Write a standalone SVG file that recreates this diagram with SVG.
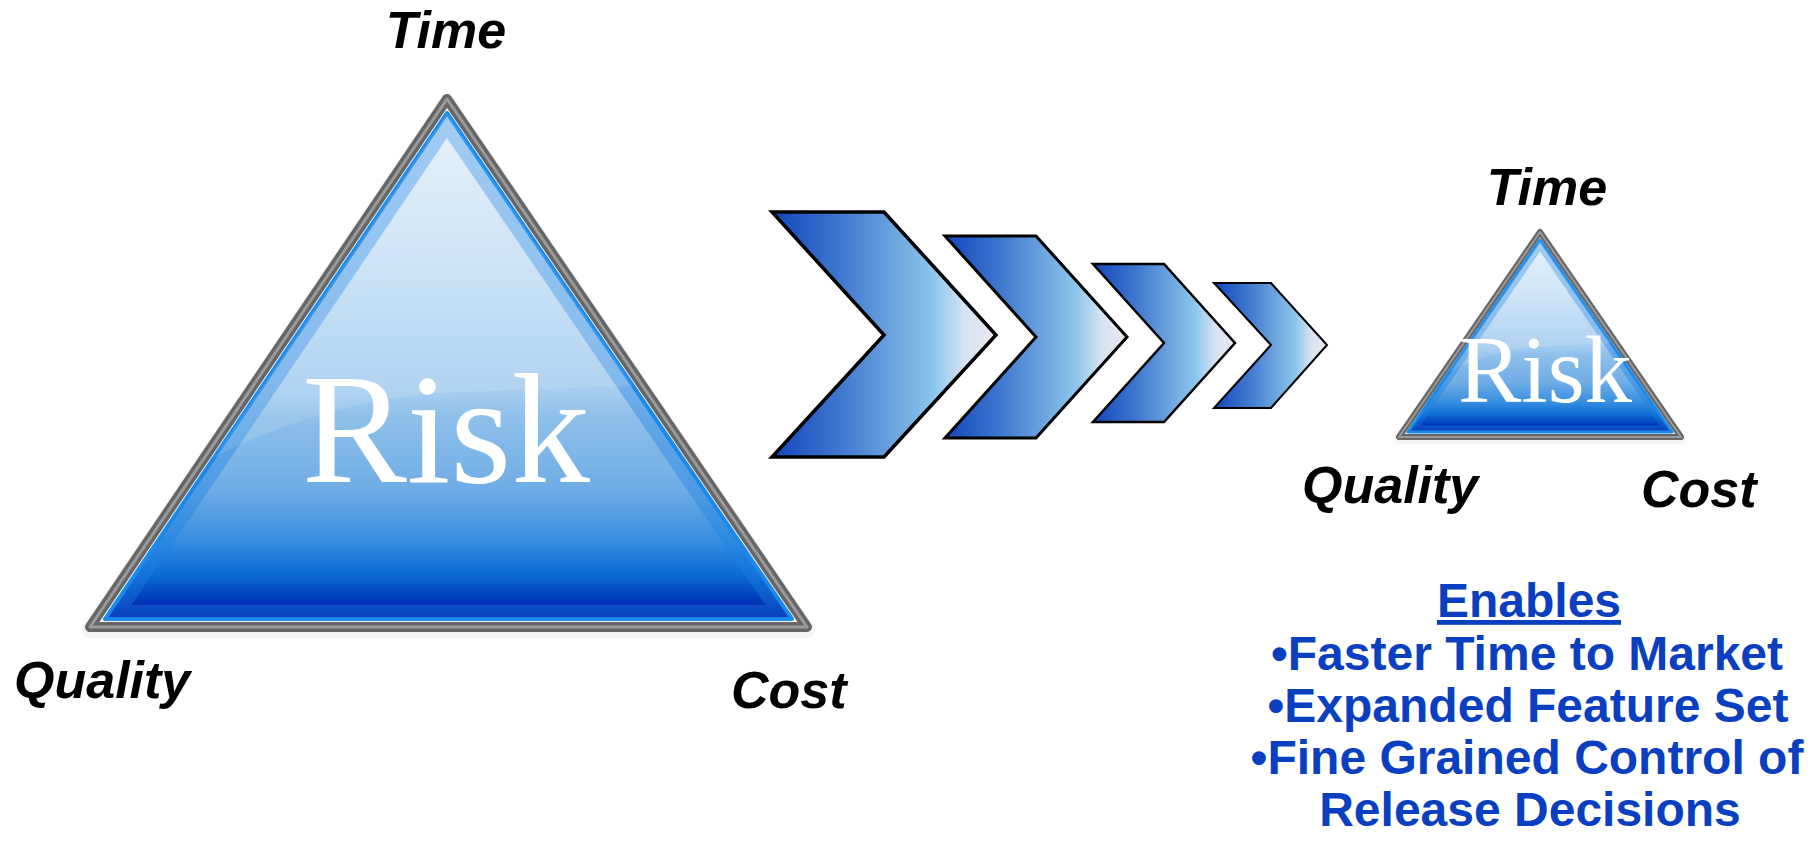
<svg xmlns="http://www.w3.org/2000/svg" width="1820" height="848" viewBox="0 0 1820 848">
<style>
.lbl{font-family:"Liberation Sans",Arial,sans-serif;font-weight:bold;font-style:italic;font-size:52px;fill:#000}
.risk{font-family:"Liberation Serif","Times New Roman",serif;fill:#fff}
.en{font-family:"Liberation Sans",Arial,sans-serif;font-weight:bold;font-size:48px;fill:#0a40c0;text-anchor:middle}
.chev{fill:url(#chevGrad);stroke:#000;stroke-linejoin:miter}
.rim{fill:none;stroke:#666;stroke-linejoin:round}
.rimHi{fill:none;stroke:#9a9a9a;stroke-linejoin:round}
.inner{fill:url(#triGrad);stroke:#1a8cec;stroke-linejoin:round}
</style>
<defs>
<linearGradient id="chevGrad" x1="0" y1="0" x2="1" y2="0">
<stop offset="0" stop-color="#1246bc"/>
<stop offset="0.3" stop-color="#3e77cf"/>
<stop offset="0.55" stop-color="#6ea5df"/>
<stop offset="0.72" stop-color="#8cc6ec"/>
<stop offset="0.86" stop-color="#d6e3f2"/>
<stop offset="1" stop-color="#ebe8f2"/>
</linearGradient>
<linearGradient id="triGrad" x1="0" y1="0" x2="0" y2="1">
<stop offset="0" stop-color="#e6f1fb"/>
<stop offset="0.3" stop-color="#c6e0f5"/>
<stop offset="0.55" stop-color="#a6cdf0"/>
<stop offset="0.6" stop-color="#8ec0ea"/>
<stop offset="0.74" stop-color="#70ade6"/>
<stop offset="0.84" stop-color="#3a90e0"/>
<stop offset="0.91" stop-color="#0d6cd4"/>
<stop offset="0.955" stop-color="#0042be"/>
<stop offset="1" stop-color="#0010a8"/>
</linearGradient>
<clipPath id="clipBig"><polygon points="447,113 105,619 792,619"/></clipPath>
<clipPath id="clipSmall"><polygon points="1540,240 1408,432 1672,432"/></clipPath>
</defs>

<g id="big-triangle">
<polygon points="447,99 90,627 807,627" fill="#eee" stroke="#f0f0f0" stroke-width="16" stroke-linejoin="round" transform="translate(0,3)" opacity="0.6"/>
<polygon class="rim" points="447,99 90,627 807,627" stroke-width="10"/>
<polygon class="rimHi" points="447,99 90,627 807,627" stroke-width="3"/>
<polygon class="inner" points="447,113 105,619 792,619" stroke-width="4"/>
<g clip-path="url(#clipBig)">
<polygon points="447,113 105,619 792,619" fill="none" stroke="#1e82e0" stroke-width="28" opacity="0.4"/>
<path d="M 90 540 Q 260 400 460 392 Q 620 386 820 380 L 820 80 L 90 80 Z" fill="#fff" opacity="0.12"/>
</g>
<text class="risk" x="446" y="482" font-size="157" text-anchor="middle">Risk</text>
<text class="lbl" x="446" y="48" text-anchor="middle">Time</text>
<text class="lbl" x="14" y="698">Quality</text>
<text class="lbl" x="731" y="708">Cost</text>
</g>

<g id="connectors">
<polygon class="chev" stroke-width="3.5" points="772,212 884,212 996,335 884,457 772,457 884,335"/>
<polygon class="chev" stroke-width="3" points="945,236 1036,236 1127,337 1036,438 945,438 1036,337"/>
<polygon class="chev" stroke-width="2.5" points="1093,264 1164,264 1235,343 1164,422 1093,422 1164,343"/>
<polygon class="chev" stroke-width="2" points="1214,283 1271,283 1327,345 1271,408 1214,408 1271,345"/>
</g>

<g id="small-triangle">
<polygon points="1540,232 1399,437 1681,437" fill="#eee" stroke="#f0f0f0" stroke-width="10" stroke-linejoin="round" transform="translate(0,2)" opacity="0.6"/>
<polygon class="rim" points="1540,232 1399,437 1681,437" stroke-width="6"/>
<polygon class="rimHi" points="1540,232 1399,437 1681,437" stroke-width="2"/>
<polygon class="inner" points="1540,240 1408,432 1672,432" stroke-width="3"/>
<g clip-path="url(#clipSmall)">
<polygon points="1540,240 1408,432 1672,432" fill="none" stroke="#1e82e0" stroke-width="13" opacity="0.4"/>
<path d="M 1400 400 Q 1470 350 1550 346 Q 1620 343 1690 340 L 1690 220 L 1400 220 Z" fill="#fff" opacity="0.12"/>
</g>
<text class="risk" x="1545" y="402" font-size="95" text-anchor="middle">Risk</text>
<text class="lbl" x="1547" y="205" text-anchor="middle">Time</text>
<text class="lbl" x="1302" y="503">Quality</text>
<text class="lbl" x="1641" y="507">Cost</text>
</g>

<g id="enables">
<text class="en" x="1529" y="617" text-decoration="underline">Enables</text>
<text class="en" x="1527" y="670">•Faster Time to Market</text>
<text class="en" x="1528" y="722">•Expanded Feature Set</text>
<text class="en" x="1527" y="774">•Fine Grained Control of</text>
<text class="en" x="1530" y="826">Release Decisions</text>
</g>
</svg>
